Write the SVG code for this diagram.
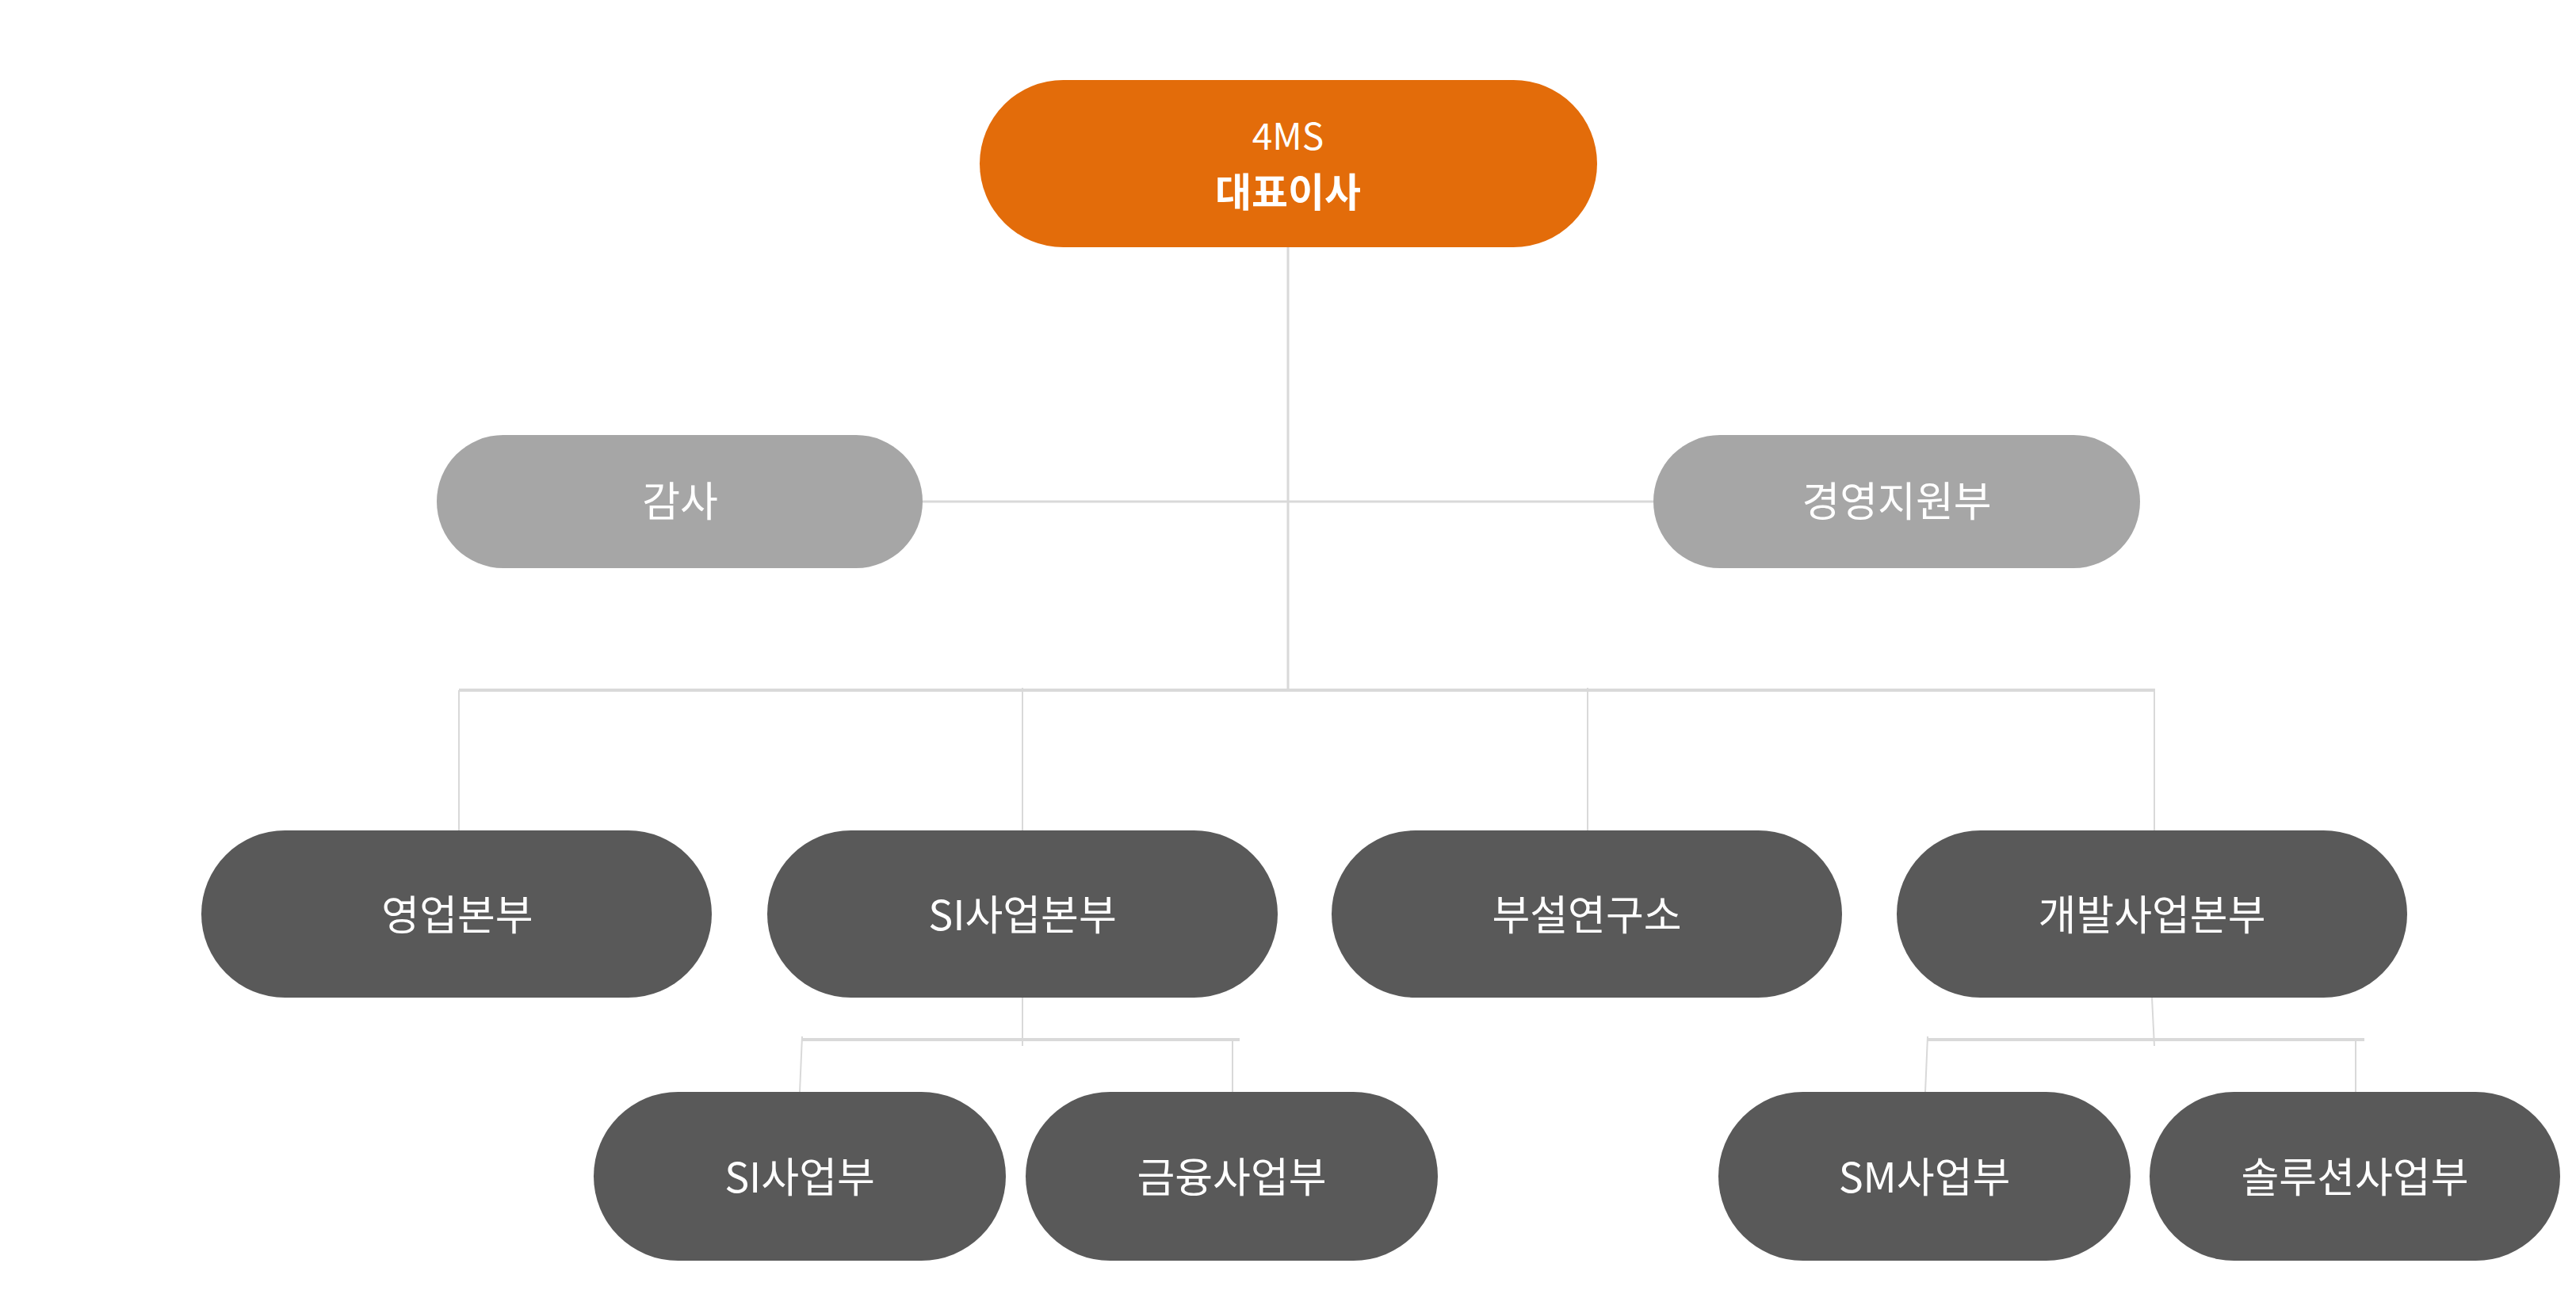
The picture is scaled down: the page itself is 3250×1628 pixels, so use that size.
<svg xmlns="http://www.w3.org/2000/svg" width="3250" height="1628" viewBox="0 0 3250 1628">
<style>
.t{font-family:"Noto Sans CJK KR","Noto Sans",sans-serif;fill:#ffffff;text-anchor:middle;font-size:52px;font-weight:400}
.top{fill:#e36c0a}
.mid{fill:#a6a6a6}
.dark{fill:#595959}
.c{stroke:#d9d9d9;fill:none}
.thin{stroke-width:2}
.thick{stroke-width:4}
</style>
<rect width="3250" height="1628" fill="#ffffff"/>
<g id="connectors">
<line class="c" x1="1625" y1="312" x2="1625" y2="871" style="stroke-width:3"/>
<line class="c" x1="1164" y1="633" x2="2086" y2="633" style="stroke-width:3"/>
<line class="c thick" x1="579" y1="871" x2="2719" y2="871"/>
<line class="c thin" x1="579" y1="871" x2="579" y2="1050"/>
<line class="c thin" x1="1290" y1="868" x2="1290" y2="1048"/>
<line class="c thin" x1="2003" y1="868" x2="2003" y2="1048"/>
<line class="c thin" x1="2718" y1="871" x2="2718" y2="1048"/>
<line class="c thin" x1="1290" y1="1259" x2="1290" y2="1320"/>
<line class="c thick" x1="1012" y1="1312" x2="1564" y2="1312"/>
<line class="c thin" x1="1012" y1="1308" x2="1009" y2="1378"/>
<line class="c thin" x1="1555" y1="1313" x2="1555" y2="1378"/>
<line class="c thin" x1="2715" y1="1259" x2="2718" y2="1320"/>
<line class="c thick" x1="2432" y1="1312" x2="2983" y2="1312"/>
<line class="c thin" x1="2432" y1="1308" x2="2429" y2="1378"/>
<line class="c thin" x1="2972" y1="1313" x2="2972" y2="1378"/>
</g>
<g id="ceo">
<rect class="top" x="1236" y="101" width="779" height="211" rx="105.5" ry="105.5"/>
<text class="t"><tspan x="1625" y="189" style="font-size:46px">4MS</tspan><tspan x="1625" y="261" style="font-weight:700;font-size:50px">대표이사</tspan></text>
</g>
<g id="audit">
<rect class="mid" x="551" y="549" width="613" height="168" rx="84" ry="84"/>
<text class="t" x="858" y="652">감사</text>
</g>
<g id="management">
<rect class="mid" x="2086" y="549" width="614" height="168" rx="84" ry="84"/>
<text class="t" x="2393" y="652">경영지원부</text>
</g>
<g id="sales">
<rect class="dark" x="254" y="1048" width="644" height="211" rx="105.5" ry="105.5"/>
<text class="t" x="577" y="1174">영업본부</text>
</g>
<g id="si-hq">
<rect class="dark" x="968" y="1048" width="644" height="211" rx="105.5" ry="105.5"/>
<text class="t" x="1290" y="1174">SI사업본부</text>
</g>
<g id="lab">
<rect class="dark" x="1680" y="1048" width="644" height="211" rx="105.5" ry="105.5"/>
<text class="t" x="2002" y="1174">부설연구소</text>
</g>
<g id="dev-hq">
<rect class="dark" x="2393" y="1048" width="644" height="211" rx="105.5" ry="105.5"/>
<text class="t" x="2715" y="1174">개발사업본부</text>
</g>
<g id="si-div">
<rect class="dark" x="749" y="1378" width="520" height="213" rx="106.5" ry="106.5"/>
<text class="t" x="1009" y="1505">SI사업부</text>
</g>
<g id="finance-div">
<rect class="dark" x="1294" y="1378" width="520" height="213" rx="106.5" ry="106.5"/>
<text class="t" x="1554" y="1505">금융사업부</text>
</g>
<g id="sm-div">
<rect class="dark" x="2168" y="1378" width="520" height="213" rx="106.5" ry="106.5"/>
<text class="t" x="2428" y="1505">SM사업부</text>
</g>
<g id="solution-div">
<rect class="dark" x="2712" y="1378" width="518" height="213" rx="106.5" ry="106.5"/>
<text class="t" x="2971" y="1505">솔루션사업부</text>
</g>
</svg>
